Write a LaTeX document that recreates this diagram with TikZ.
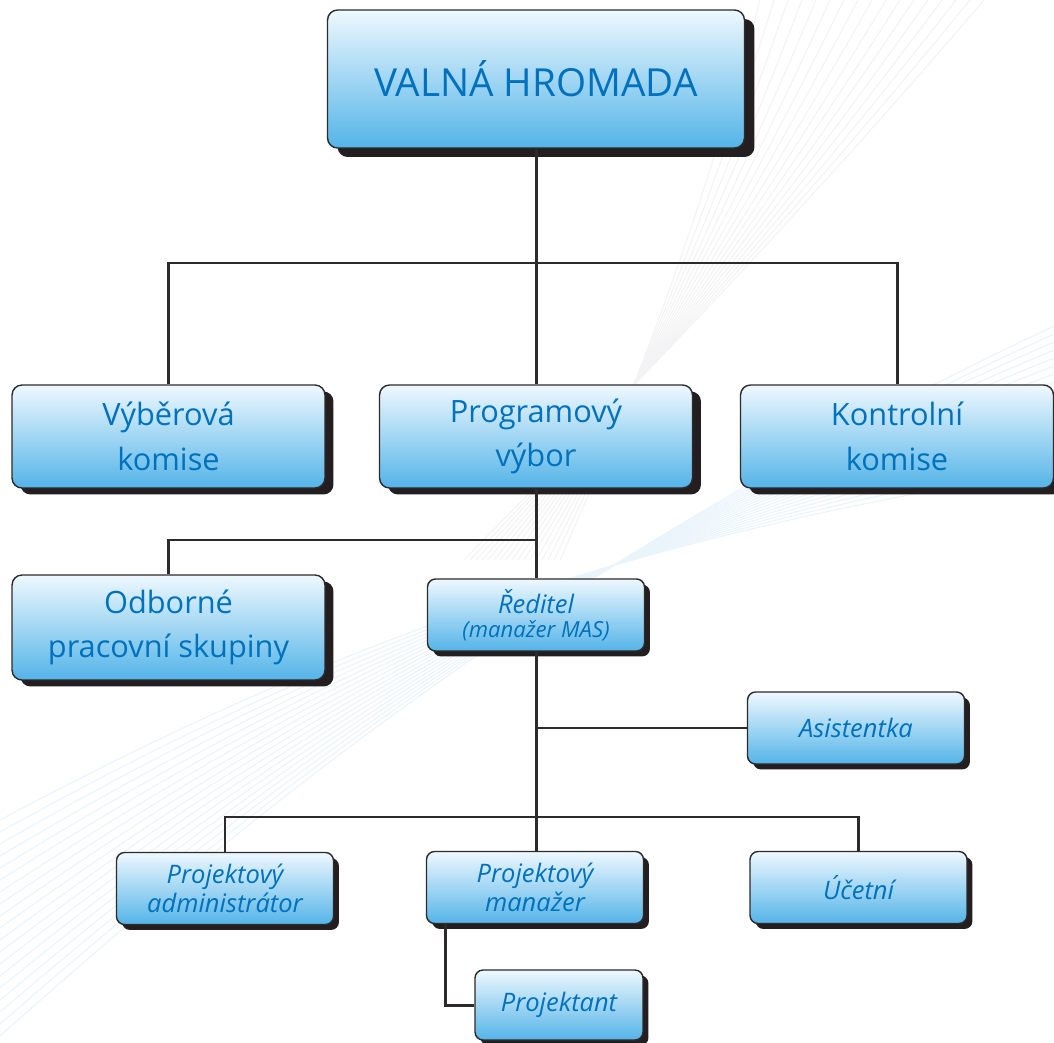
\documentclass[tikz,border=0pt]{standalone}
\usepackage{fontspec}
\setmainfont{Open Sans}
\usepackage{tikz}
\usetikzlibrary{shadows}

\definecolor{boxtop}{RGB}{238,248,254}
\definecolor{boxbot}{RGB}{84,180,232}
\definecolor{boxtext}{RGB}{0,113,188}
\definecolor{boxline}{RGB}{45,42,43}
\definecolor{shadowcol}{RGB}{35,31,32}
\definecolor{wavegray}{RGB}{243,243,245}
\definecolor{waveblue}{RGB}{233,244,251}

\tikzset{
  orgbox/.style={draw=boxline, line width=0.8pt, rounded corners=0.2cm,
    top color=boxtop, bottom color=boxbot, text=boxtext, align=center,
    inner sep=0pt},
  topbox/.style={orgbox, minimum width=8.34cm, minimum height=2.76cm,
    font=\fontsize{22}{26}\selectfont,
    drop shadow={shadow xshift=0.2cm, shadow yshift=-0.18cm, fill=shadowcol, opacity=1}},
  midbox/.style={orgbox, minimum width=6.26cm, minimum height=2.06cm,
    font=\fontsize{17.5}{25.5}\selectfont,
    drop shadow={shadow xshift=0.17cm, shadow yshift=-0.13cm, fill=shadowcol, opacity=1}},
  smallbox/.style={orgbox, rounded corners=0.16cm, minimum width=4.34cm,
    minimum height=1.44cm, font=\fontsize{14.5}{16.5}\selectfont\itshape,
    drop shadow={shadow xshift=0.11cm, shadow yshift=-0.11cm, fill=shadowcol, opacity=1}},
  link/.style={draw=boxline, line width=1.7pt},
}

\begin{document}
\begin{tikzpicture}[x=0.02cm, y=-0.02cm]
  \useasboundingbox (0,0) rectangle (1054,1043);
  \fill[white] (0,0) rectangle (1054,1043);

  % faint background waves
  \foreach \i in {0,...,16}
    \draw[wavegray, line width=0.6pt] (760+14*\i,0) .. controls (700+6*\i,220) and (640,380) .. (560-6*\i,560);
  \foreach \i in {0,...,18}
    \draw[waveblue, line width=0.6pt] (0,820+12*\i) .. controls (300,660+6*\i) and (600,540) .. (1054,470-8*\i);

  % boxes
  \node[topbox] (vh) at (536,79) {VALNÁ HROMADA};

  \node[midbox] (vyber) at (168.5,436.5) {Výběrová\\komise};
  \node[midbox] (prog) at (536,436.5) {Programový\\výbor};
  \node[midbox] (kontr) at (897,436.5) {Kontrolní\\komise};

  \node[midbox, minimum height=2.1cm] (odb) at (168.5,627.5) {Odborné\\pracovní skupiny};
  \node[smallbox] (red) at (536,615)
    {Ředitel\\[-3pt]{\fontsize{12.6}{13}\selectfont(manažer MAS)}};

  \node[smallbox] (asist) at (856,728) {Asistentka};

  \node[smallbox] (padm) at (225,888.5) {Projektový\\administrátor};
  \node[smallbox] (pman) at (535,887.5) {Projektový\\manažer};
  \node[smallbox] (ucet) at (858.5,887.5) {Účetní};

  \node[smallbox, minimum width=3.36cm, minimum height=1.4cm] (pkt) at (559,1005) {Projektant};

  % connectors
  \coordinate (bus1) at (536,263);
  \coordinate (bus2) at (536,540);
  \coordinate (bus3) at (536,817);

  \draw[link] (vh.south) -- (prog.north);
  \draw[link] (vyber.north) |- (bus1) -| (kontr.north);
  \draw[link] (prog.south) -- (red.north);
  \draw[link] (odb.north) |- (bus2);
  \draw[link] (red.south) -- (pman.north -| red.south);
  \draw[link] (asist.west) -- (asist.west -| red.south);
  \draw[link] (padm.north) |- (bus3) -| (ucet.north);
  \draw[link] ([xshift=0.4cm]pman.south west) |- (pkt.west);
\end{tikzpicture}
\end{document}
